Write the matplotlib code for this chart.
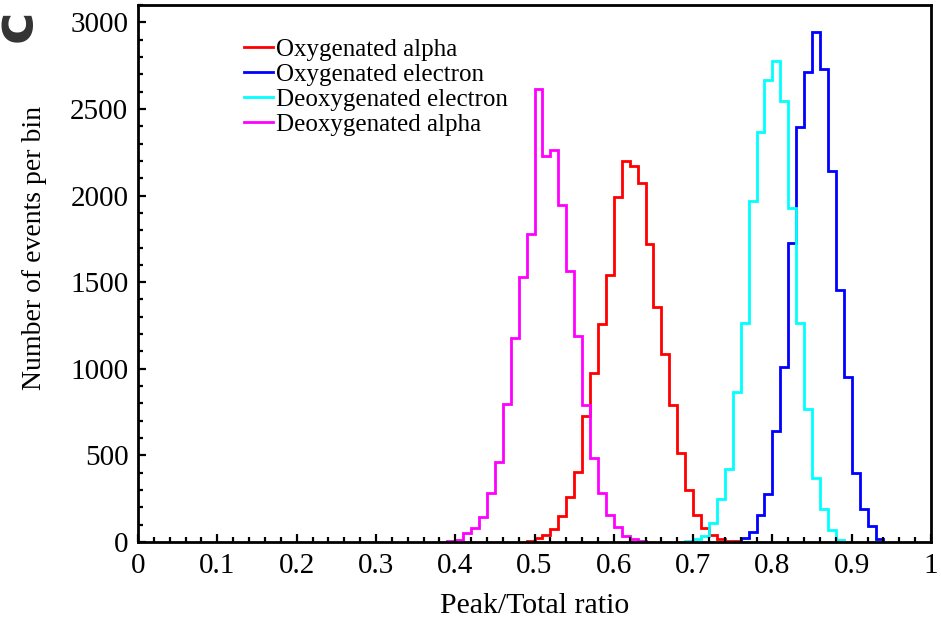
import matplotlib
matplotlib.use("Agg")
import matplotlib.pyplot as plt
import numpy as np
from matplotlib.ticker import MultipleLocator

plt.rcParams['font.family'] = ['Liberation Serif', 'DejaVu Serif']

# bin width of all histograms
bin_width = 0.01

# Oxygenated alpha (first bin starts at 0.49)
ox_alpha_start = 0.49
ox_alpha = [8, 21, 40, 77, 148, 257, 404, 726, 975, 1257, 1544, 1990, 2201,
            2172, 2073, 1718, 1358, 1084, 789, 512, 300, 154, 80, 43, 20, 8, 4]

# Oxygenated electron (first bin starts at 0.76)
ox_elec_start = 0.76
ox_elec = [21, 60, 158, 279, 639, 1010, 1727, 2398, 2715, 2945, 2731, 2144,
           1452, 955, 396, 191, 90, 19]

# Deoxygenated electron (first bin starts at 0.69)
deox_elec_start = 0.69
deox_elec = [5, 15, 33, 107, 250, 419, 864, 1267, 1969, 2365, 2667, 2778,
             2548, 1926, 1267, 766, 372, 191, 68, 10]

# Deoxygenated alpha (first bin starts at 0.39)
deox_alpha_start = 0.39
deox_alpha = [5, 10, 52, 79, 142, 282, 461, 797, 1176, 1527, 1780, 2613, 2226,
              2264, 1946, 1565, 1190, 791, 487, 282, 157, 86, 36, 17, 5]

labels = ["Oxygenated alpha", "Oxygenated electron",
          "Deoxygenated electron", "Deoxygenated alpha"]
colors = ["#ff0000", "#0000ff", "#00ffff", "#ff00ff"]

series = [(ox_alpha_start, ox_alpha), (ox_elec_start, ox_elec),
          (deox_elec_start, deox_elec), (deox_alpha_start, deox_alpha)]

fig = plt.figure(figsize=(9.41, 6.23), dpi=100)
ax = fig.add_axes([0.1467, 0.130, 0.8427, 0.862])

for (start, vals), lab, col in zip(series, labels, colors):
    edges = start + bin_width * np.arange(len(vals) + 1)
    ax.stairs(vals, edges, baseline=0, color=col, linewidth=2.0, label=lab)

ax.set_xlim(0, 1)
ax.set_ylim(0, 3100)
ax.xaxis.set_minor_locator(MultipleLocator(0.02))
ax.yaxis.set_major_locator(MultipleLocator(500))
ax.yaxis.set_minor_locator(MultipleLocator(100))
ax.set_xticks(np.arange(0, 1.01, 0.1))
ax.set_xticklabels(["0", "0.1", "0.2", "0.3", "0.4", "0.5", "0.6", "0.7",
                    "0.8", "0.9", "1"])

ax.tick_params(which='both', direction='in', top=False, right=False,
               labelsize=21)
ax.tick_params(which='major', length=6, width=1.6)
ax.tick_params(which='minor', length=3.5, width=1.6)
ax.tick_params(axis='x', pad=8)
ax.tick_params(axis='y', pad=7)
for sp in ax.spines.values():
    sp.set_linewidth(2.0)

ax.set_xlabel("Peak/Total ratio", fontsize=21.5)
ax.set_ylabel("Number of events per bin", fontsize=20)
ax.xaxis.set_label_coords(0.5, -0.095)
ax.yaxis.set_label_coords(-0.115, 0.547)

ax.legend(loc='upper left', bbox_to_anchor=(0.121, 0.957), frameon=False,
          fontsize=18, handlelength=1.15, handletextpad=0.15,
          labelspacing=0.1, borderaxespad=0)

# cropped panel letter at the top-left edge
fig.text(-0.012, 0.985, "c", fontsize=40, fontweight='bold', color='#333333',
         family='DejaVu Sans', rotation=90, va='top', ha='left')

fig.savefig("out.png", dpi=100)
